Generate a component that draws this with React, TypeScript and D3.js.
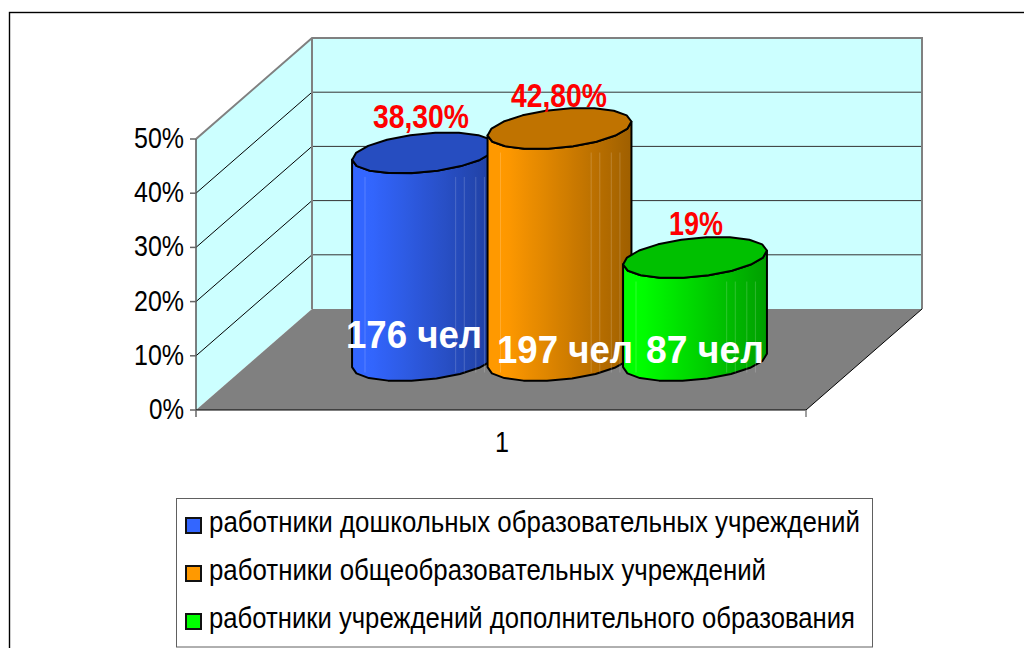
import React from "react";
import * as d3 from "d3";

const seriesNames = [
  "работники дошкольных образовательных учреждений",
  "работники общеобразовательных учреждений",
  "работники учреждений дополнительного образования",
];
const seriesValues = [38.3, 42.8, 19];
const valueLabels = ["38,30%", "42,80%", "19%"];
const peopleLabels = ["176 чел", "197 чел", "87 чел"];
const tickValues = [0, 10, 20, 30, 40, 50];
const baseColors = ["#3366ff", "#ff9900", "#00ff00"];
const category = "1";

const FONT = "'Liberation Sans', Arial, sans-serif";
const x0 = 196, x1 = 806, y0 = 410, y50 = 139;
const dx = 116, dy = -101;
const y = d3.scaleLinear().domain([0, 50]).range([y0, y50]);
const centerX = d3.scaleBand<number>().domain([0, 1, 2]).range([356.25, 762.75]);
const A = 68, B = 23.5, C = 20.5;
const baseY = 360.5;

function ring(cx: number, cy: number, from = 0, to = 360) {
  const pts: [number, number][] = d3.range(from, to + 0.01, 20).map((deg) => {
    const t = (deg * Math.PI) / 180;
    return [cx + A * Math.cos(t) + B * Math.sin(t), cy - C * Math.sin(t)];
  });
  return pts;
}
const line = d3.line();

function Cylinder({ i }: { i: number }) {
  const cx = centerX(i)! + centerX.bandwidth() / 2;
  const h = y0 - y(seriesValues[i]);
  const topY = baseY - h;
  const half = Math.hypot(A, B);
  const tf = (Math.atan2(B, A) * 180) / Math.PI;
  const front = ring(cx, baseY, 180 + tf, 360 + tf);
  const sideTop = ring(cx, topY, 180 + tf, 360 + tf).reverse();
  const side = [...front, ...sideTop];
  const color = d3.color(baseColors[i])!;
  const stops = d3.range(0, 1.001, 0.05);
  const shade = d3.scaleLinear<string>().domain([0, 0.12, 1]).range([
    color.formatHex(),
    color.formatHex(),
    color.darker(1.35).formatHex(),
  ]);
  const topFill = color.darker(0.8).formatHex();
  return (
    <g>
      <defs>
        <linearGradient id={`cyl${i}`} x1="0" x2="1" y1="0" y2="0">
          {stops.map((s) => (
            <stop key={s} offset={s} stopColor={shade(s)} />
          ))}
        </linearGradient>
      </defs>
      <path d={line(side)! + "Z"} fill={`url(#cyl${i})`} stroke="#000" strokeWidth={2} strokeLinejoin="round" />
      {[0.09, 0.72, 0.78, 0.86, 0.92].map((p) => (
        <line
          key={p}
          x1={cx - half + p * 2 * half}
          x2={cx - half + p * 2 * half}
          y1={topY + 24}
          y2={baseY + 12}
          stroke="#fff"
          strokeOpacity={0.18}
          strokeWidth={1}
        />
      ))}
      <path d={line(ring(cx, topY))! + "Z"} fill={topFill} stroke="#000" strokeWidth={2} strokeLinejoin="round" />
    </g>
  );
}

export default function App() {
  return (
    <svg width={1024} height={648} style={{ position: "absolute", left: 0, top: 0, background: "#fff" }}>
      <rect x={9.5} y={12.5} width={1030} height={650} fill="#fff" stroke="#000" strokeWidth={1.4} />
      <path d={`M${x0},${y0}L${x0 + dx},${y0 + dy}L${x0 + dx},${y50 + dy}L${x0},${y50}Z`} fill="#ccffff" />
      <rect x={x0 + dx} y={y50 + dy} width={x1 - x0} height={y0 - y50} fill="#ccffff" />
      <path d={`M${x0},${y0}L${x1},${y0}L${x1 + dx},${y0 + dy}L${x0 + dx},${y0 + dy}Z`} fill="#808080" />
      {tickValues.slice(1, -1).map((t) => (
        <g key={t}>
          <line x1={x0} y1={y(t)} x2={x0 + dx} y2={y(t) + dy} stroke="#000" strokeWidth={1} />
          <line x1={x0 + dx} y1={y(t) + dy} x2={x1 + dx} y2={y(t) + dy} stroke="#333" strokeWidth={1} />
        </g>
      ))}
      <path
        d={`M${x0},${y50}L${x0 + dx},${y50 + dy}L${x1 + dx},${y50 + dy}L${x1 + dx},${y0 + dy}M${x0 + dx},${y50 + dy}L${x0 + dx},${y0 + dy}`}
        fill="none"
        stroke="#808080"
        strokeWidth={2}
      />
      <path d={`M${x0},${y0}L${x0},${y50}`} fill="none" stroke="#555" strokeWidth={1.5} />
      <path d={`M${x0},${y0}L${x1},${y0}L${x1 + dx},${y0 + dy}`} fill="none" stroke="#000" strokeWidth={1} />
      {tickValues.map((t) => (
        <g key={t}>
          <line x1={x0 - 6} x2={x0} y1={y(t)} y2={y(t)} stroke="#666" strokeWidth={1.5} />
          <text x={184} y={y(t) + 9} textAnchor="end" fontFamily={FONT} fontSize={30} textLength={t === 0 ? 35 : 50} lengthAdjust="spacingAndGlyphs" fill="#000">
            {`${t}%`}
          </text>
        </g>
      ))}
      <line x1={x0} x2={x0} y1={y0} y2={y0 + 7} stroke="#666" strokeWidth={1.5} />
      <line x1={x1} x2={x1} y1={y0} y2={y0 + 7} stroke="#808080" strokeWidth={1.5} />
      <text x={502} y={452} textAnchor="middle" fontFamily={FONT} fontSize={30} textLength={14} lengthAdjust="spacingAndGlyphs" fill="#000">{category}</text>

      {seriesValues.map((_, i) => <Cylinder key={i} i={i} />)}

      {valueLabels.map((l, i) => (
        <text
          key={l}
          x={[421, 559, 696][i]}
          y={y(seriesValues[i]) + [-74, -71, -72][i]}
          textAnchor="middle"
          fontFamily={FONT}
          fontWeight="bold"
          fontSize={33}
          textLength={[96, 96, 54][i]}
          lengthAdjust="spacingAndGlyphs"
          fill="#ff0000"
        >
          {l}
        </text>
      ))}
      {peopleLabels.map((l, i) => (
        <text
          key={l}
          x={[414, 565, 705][i]}
          y={[348, 363, 363][i]}
          textAnchor="middle"
          fontFamily={FONT}
          fontWeight="bold"
          fontSize={38}
          textLength={[136, 136, 118][i]}
          lengthAdjust="spacingAndGlyphs"
          fill="#ffffff"
        >
          {l}
        </text>
      ))}

      <rect x={176.5} y={498.5} width={696} height={148.5} fill="#fff" stroke="#606060" strokeWidth={1} />
      {seriesNames.map((n, i) => (
        <g key={n}>
          <rect x={186} y={518 + i * 48} width={15} height={15} fill={baseColors[i]} stroke="#111" strokeWidth={2} />
          <text x={209} y={532 + i * 48} fontFamily={FONT} fontSize={29} textLength={[651, 557, 646][i]} lengthAdjust="spacingAndGlyphs" fill="#000">
            {n}
          </text>
        </g>
      ))}
    </svg>
  );
}
